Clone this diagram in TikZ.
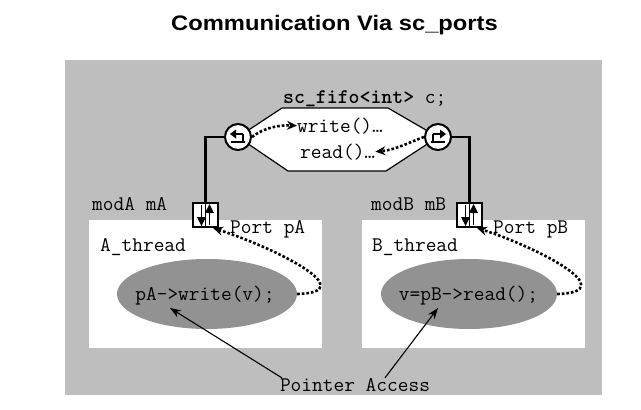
\documentclass[tikz,border=0pt]{standalone}
\usepackage{graphicx}
\usepackage{fontspec}
\setsansfont{Liberation Sans}
\usetikzlibrary{arrows.meta,shapes.geometric}
\definecolor{panelgray}{RGB}{190,190,190}
\definecolor{blobgray}{RGB}{146,146,146}

\begin{document}
\begin{tikzpicture}[x=1pt, y=-1pt, >={Stealth[length=11pt,width=8pt]},
    txt/.style={font=\ttfamily\fontsize{20.8}{23}\selectfont, inner sep=0pt},
    modbox/.style={rectangle, fill=white, inner sep=0pt},
    blob/.style={ellipse, fill=blobgray, inner sep=0pt},
    pin/.style={circle, draw, fill=white, line width=2pt, minimum size=26pt, inner sep=0pt},
    portbox/.style={rectangle, draw, fill=white, line width=2pt, minimum width=25pt, minimum height=24pt, inner sep=0pt},
    wire/.style={line width=2.5pt},
    dots/.style={line width=2.6pt, dash pattern=on 2.6pt off 2pt, -{Stealth[length=10pt,width=9pt]}},
    pointer/.style={line width=1.1pt, ->},
    inarrow/.pic={
        \draw[line width=1.5pt] (5,-3) -- (-2,-3) (5,-3) -- (5,5) (-7,5) -- (7,5);
        \fill (-8,-3) -- (-2,-7.5) -- (-2,1.5) -- cycle;
    },
    outarrow/.pic={
        \draw[line width=1.5pt] (-5,-3) -- (2,-3) (-5,-3) -- (-5,5) (-7,5) -- (7,5);
        \fill (8,-3) -- (2,-7.5) -- (2,1.5) -- cycle;
    },
    portio/.pic={
        \draw[line width=1.2pt] (0,-12) -- (0,12);
        \draw[line width=1.6pt] (4,10) -- (4,-3) (-4,-10) -- (-4,3);
        \fill (4,-11) -- (-0.5,-2) -- (8.5,-2) -- cycle;
        \fill (-4,11) -- (-8.5,2) -- (0.5,2) -- cycle;
    }]
    \useasboundingbox (0,0) rectangle (641,410);

    \node[font=\sffamily\bfseries\fontsize{21}{25}\selectfont, anchor=base, inner sep=0pt] (title) at (334.5,30) {\scalebox{1.13}[1]{Communication Via sc\_ports}};

    \fill[panelgray] (65,60) rectangle (602,395);

    \node[modbox, minimum width=233pt, minimum height=128pt] (modA) at (205.5,284) {};
    \node[modbox, minimum width=223pt, minimum height=128pt] (modB) at (473.5,284) {};

    \filldraw[fill=white, line width=1.2pt] (238,137) -- (282,108) -- (388,108) -- (438,137) -- (386,171) -- (288,171) -- cycle;

    \node[pin] (pinA) at (238,137) {};
    \pic at (pinA.center) {inarrow};
    \node[pin] (pinB) at (438,137) {};
    \pic at (pinB.center) {outarrow};

    \node[portbox] (portA) at (205.5,215) {};
    \pic at (portA.center) {portio};
    \node[portbox] (portB) at (469.5,215) {};
    \pic at (portB.center) {portio};

    \draw[wire] (pinA.west) -| (portA.north);
    \draw[wire] (pinB.east) -| (portB.north);

    \node[txt, anchor=base west] (fifo) at (283,103) {\textbf{sc\_fifo<int>} c;};
    \node[txt, anchor=base west] (wr) at (297,132) {write()…};
    \node[txt, anchor=base west] (rd) at (300,158) {read()…};

    \node[txt, anchor=base west] (modAlbl) at (92,210) {modA mA};
    \node[txt, anchor=base west] (modBlbl) at (371,210) {modB mB};
    \node[txt, anchor=base west] (portAlbl) at (230,233) {Port pA};
    \node[txt, anchor=base west] (portBlbl) at (493,233) {Port pB};
    \node[txt, anchor=base west] (thrA) at (100,251) {A\_thread};
    \node[txt, anchor=base west] (thrB) at (372,251) {B\_thread};

    \node[blob, minimum width=180pt, minimum height=70pt] (ellA) at (207,294) {};
    \node[blob, minimum width=176pt, minimum height=70pt] (ellB) at (469,294) {};
    \node[txt, anchor=base] (callA) at (205,300) {pA->write(v);};
    \node[txt, anchor=base] (callB) at (468.5,300) {v=pB->read();};

    \node[txt, anchor=base] (access) at (355,391) {Pointer Access};
    \coordinate (ptrA) at (170,308);
    \coordinate (ptrB) at (438,308);

    \draw[dots] (pinA.east) .. controls (265,127) and (280,125) .. (wr.west);
    \draw[dots] (pinB.west) .. controls (410,142) and (395,150) .. (rd.east);
    \draw[dots] (ellA.east) .. controls +(66,-2) and +(62,20) .. (portA.-60);
    \draw[dots] (ellB.east) .. controls +(66,-2) and +(62,20) .. (portB.-60);

    \draw[pointer] ([xshift=2pt]access.north west) -- (ptrA);
    \draw[pointer] ([xshift=30pt]access.north) -- (ptrB);
\end{tikzpicture}
\end{document}
